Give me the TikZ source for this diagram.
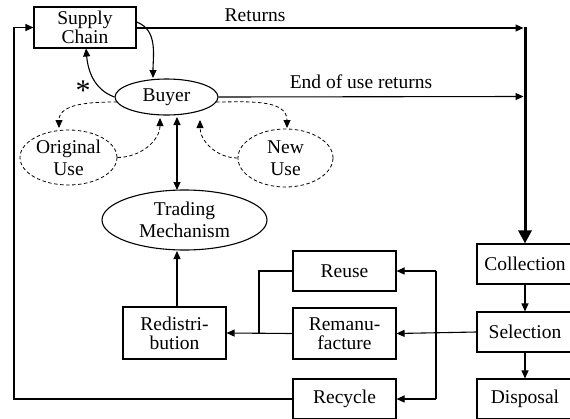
\documentclass[tikz,border=0pt]{standalone}
\usepackage{fontspec}
\setmainfont{Liberation Serif}
\usetikzlibrary{arrows.meta,shapes.geometric}
\begin{document}
\begin{tikzpicture}[x=1pt,y=-1pt,
  every node/.style={font=\fontsize{19.5}{19}\selectfont},
  box/.style={draw,line width=1.1pt,rectangle,inner sep=0pt,align=center,minimum width=103pt},
  oval/.style={draw,line width=1.1pt,ellipse,inner sep=0pt,align=center,font=\fontsize{19.5}{22}\selectfont},
  dashoval/.style={oval,line width=0.8pt,dash pattern=on 3.5pt off 2.5pt},
  arr/.style={line width=1.1pt,-{Triangle[width=7pt,length=8pt]}},
  dasharr/.style={line width=0.8pt,dash pattern=on 3.5pt off 2.5pt,-{Triangle[width=7pt,length=8pt]}},
  thickarr/.style={line width=3pt,-{Triangle[width=13pt,length=13pt]}},
  lbl/.style={inner sep=0pt}]
\useasboundingbox (0,0) rectangle (570,418);
\clip (0,0) rectangle (570,418);
% nodes
\node[box,minimum width=102pt,minimum height=41pt] (sc) at (85,27.5) {Supply\\Chain};
\node[oval,minimum width=103pt,minimum height=36pt] (buyer) at (166.5,97) {Buyer};
\node[dashoval,minimum width=97pt,minimum height=55pt] (orig) at (68.5,157.5) {Original\\Use};
\node[dashoval,minimum width=95pt,minimum height=58pt] (new) at (285.5,158) {New\\Use};
\node[oval,minimum width=165pt,minimum height=60pt] (trade) at (184.5,220) {Trading\\Mechanism};
\node[box,minimum height=52pt] (redis) at (174.5,333) {Redistri-\\bution};
\node[box,minimum height=40pt] (reuse) at (344.5,271) {Reuse};
\node[box,minimum height=51pt] (reman) at (344.5,333.5) {Remanu-\\facture};
\node[box,minimum height=40pt] (recyc) at (344.5,399) {Recycle};
\node[box,minimum width=96pt,minimum height=40pt] (coll) at (525,264) {Collection};
\node[box,minimum width=96pt,minimum height=40pt] (sel) at (525,332) {Selection};
\node[box,minimum width=96pt,minimum height=40pt] (disp) at (525,399) {Disposal};
% labels
\node[lbl] (lret) at (255,15) {Returns};
\node[lbl] (leu) at (361,82) {End of use returns};
\node[lbl,anchor=north,font=\fontsize{30}{30}\selectfont] (star) at (83,81) {*};
% coordinates
\coordinate (rt) at (525,28);
\coordinate (rtd) at (523.5,28);
\coordinate (eu) at (523.5,96.5);
\coordinate (lc) at (14,27.5);
\coordinate (jn) at (259,333.5);
\coordinate (vt) at (436,271);
\coordinate (vb) at (436,399);
\coordinate (bt1) at (177,117);
\coordinate (bt2) at (177,190);
\coordinate (ob) at (160,118);
\coordinate (nb) at (200,120);
\coordinate (bs) at (153,78);
\coordinate (scb) at (86,48.5);
\coordinate (bl) at (117,102);
\coordinate (br) at (216,102);
\coordinate (ot) at (59,128);
\coordinate (nt) at (287,128);
\coordinate (rd1) at (177,307);
\coordinate (rd2) at (177,251);
% connectors
\draw[arr] (sc.east |- rt) -- (rtd);
\draw[thickarr] (525,26.5) -- (coll.north);
\draw[arr] (buyer.east) -- (eu);
\draw[arr] ([yshift=5.5pt]sc.east) to[out=-20,in=90] (bs);
\draw[arr] (buyer.west) to[out=160,in=-85] (scb);
\draw[dasharr] (bl) to[out=180,in=90] (ot);
\draw[dasharr] (br) to[out=0,in=90] (nt);
\draw[dasharr] (orig.east) to[out=0,in=-90] (ob);
\draw[dasharr] (new.west) to[out=180,in=-90] (nb);
\draw[line width=1.1pt,{Triangle[width=7pt,length=8pt]}-{Triangle[width=7pt,length=8pt]}] (bt1) -- (bt2);
\draw[arr] (rd1) -- (rd2);
\draw[line width=1.1pt] (reuse.west) -| (jn);
\draw[arr] (reman.west) -- (redis.east);
\draw[arr] (sel.west) -- (reman.east);
\draw[line width=1.1pt] (vt) -- (vb);
\draw[arr] (vt) -- (reuse.east);
\draw[arr] (vb) -- (recyc.east);
\draw[arr] (recyc.west) -| (lc) -- (sc.west);
\draw[arr] (coll.south) -- (sel.north);
\draw[arr] (sel.south) -- (disp.north);
\end{tikzpicture}
\end{document}
